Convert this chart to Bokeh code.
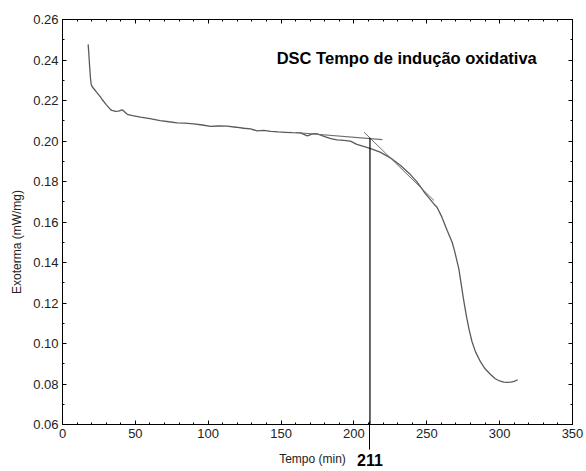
from bokeh.plotting import figure
from bokeh.models import (LinearAxis, SingleIntervalTicker, FixedTicker, Range1d,
                          NumeralTickFormatter, Label, CustomJSTickFormatter)
from bokeh.embed import file_html
from bokeh.resources import INLINE

# ---- data ----
tempo_min = [17.6, 18.0, 18.6, 19.2, 19.7, 20.4, 21.5, 23.5, 26.0, 27.2, 30.0, 33.0, 34.0,
             36.4, 38.4, 41.0, 44.4, 48.0, 53.5, 60.0, 67.0, 73.0, 78.7, 84.0, 90.0, 96.0,
             101.6, 107.0, 113.0, 119.0, 124.4, 129.0, 133.6, 138.0, 143.0, 148.0, 153.0,
             158.0, 163.3, 168.0, 172.0, 174.8, 180.0, 184.0, 188.5, 193.0, 197.6, 202.0,
             206.0, 211.0, 218.0, 225.0, 232.0, 238.0, 243.4, 249.0, 255.0, 257.0, 260.4,
             264.0, 267.4, 269.0, 272.0, 273.8, 275.4, 277.2, 279.0, 281.0, 283.4, 286.8,
             290.0, 293.6, 297.0, 300.0, 302.8, 305.0, 307.5, 310.0, 312.4]
exoterma = [0.2477, 0.2440, 0.2370, 0.2310, 0.2280, 0.2268, 0.2258, 0.2240, 0.2218, 0.2205,
            0.2180, 0.2155, 0.2151, 0.2146, 0.2148, 0.2154, 0.2132, 0.2125, 0.2118, 0.2110,
            0.2101, 0.2095, 0.2090, 0.2088, 0.2085, 0.2079, 0.2072, 0.2074, 0.2073, 0.2068,
            0.2063, 0.2060, 0.2050, 0.2052, 0.2048, 0.2045, 0.2043, 0.2041, 0.2040, 0.2025,
            0.2036, 0.2035, 0.2022, 0.2012, 0.2006, 0.2003, 0.1999, 0.1983, 0.1975, 0.1964,
            0.1945, 0.1917, 0.1879, 0.1840, 0.1797, 0.1740, 0.1688, 0.1673, 0.1624, 0.1558,
            0.1500, 0.1459, 0.1369, 0.1285, 0.1210, 0.1135, 0.1070, 0.1010, 0.0960, 0.0910,
            0.0875, 0.0848, 0.0826, 0.0815, 0.0809, 0.0808, 0.0809, 0.0813, 0.0821]

baseline_x = [160.0, 219.5]
baseline_y = [0.2042, 0.2007]
onset_line_x = [207.0, 255.0]
onset_line_y = [0.2043, 0.1706]
onset_time = 211
onset_y = 0.2016

x_ticks_interval = 50
y_ticks_interval = 0.02
title_text = "DSC Tempo de indução oxidativa"
x_label = "Tempo (min)"
y_label = "Exoterma (mW/mg)"

FONT = "Liberation Sans"

p = figure(width=586, height=471, output_backend="svg", toolbar_location=None,
           x_range=Range1d(0, 350), y_range=Range1d(0.06, 0.26),
           x_axis_location=None, y_axis_location=None,
           min_border_left=62, min_border_right=14, min_border_top=19, min_border_bottom=47)
p.background_fill_color = "white"
p.border_fill_color = "white"
p.outline_line_color = "black"
p.outline_line_width = 1
p.xgrid.visible = False
p.ygrid.visible = False

blank = CustomJSTickFormatter(code="return ''")


def style_axis(ax, labels=True):
    ax.axis_line_color = "black"
    ax.major_tick_in = 4
    ax.major_tick_out = 0
    ax.minor_tick_in = 2
    ax.minor_tick_out = 0
    ax.major_tick_line_color = "black"
    ax.minor_tick_line_color = "black"
    ax.major_label_text_font = FONT
    ax.major_label_text_font_size = "13px"
    ax.major_label_text_color = "#222222"
    if not labels:
        ax.formatter = blank
        ax.major_label_standoff = 0


xt = SingleIntervalTicker(interval=x_ticks_interval, num_minor_ticks=5)
yt = SingleIntervalTicker(interval=y_ticks_interval, num_minor_ticks=2)

xaxis = LinearAxis(ticker=xt)
style_axis(xaxis)
xaxis.major_label_standoff = 4
p.add_layout(xaxis, "below")

# second bottom axis carrying the induction-time marker
tax = LinearAxis(ticker=FixedTicker(ticks=[onset_time], minor_ticks=[]))
tax.axis_line_color = None
tax.major_tick_in = 19
tax.major_tick_out = 9
tax.major_tick_line_color = "black"
tax.major_label_text_font = FONT
tax.major_label_text_font_size = "16px"
tax.major_label_text_font_style = "bold"
tax.major_label_text_color = "black"
tax.major_label_standoff = 4
# trailing no-break spaces move the centred label a little to the left
tax.axis_label = x_label + "\u00a0" * 3
tax.axis_label_text_font = FONT
tax.axis_label_text_font_size = "12px"
tax.axis_label_text_font_style = "normal"
tax.axis_label_text_color = "#222222"
tax.axis_label_standoff = -17
p.add_layout(tax, "below")

yaxis = LinearAxis(ticker=yt, formatter=NumeralTickFormatter(format="0.00"))
style_axis(yaxis)
yaxis.major_label_standoff = 4
# trailing no-break spaces move the centred label down, as in the reference
yaxis.axis_label = y_label + "\u00a0" * 12
yaxis.axis_label_text_font = FONT
yaxis.axis_label_text_font_size = "12px"
yaxis.axis_label_text_font_style = "normal"
yaxis.axis_label_text_color = "#222222"
yaxis.axis_label_standoff = 6
p.add_layout(yaxis, "left")

top = LinearAxis(ticker=SingleIntervalTicker(interval=x_ticks_interval, num_minor_ticks=5))
style_axis(top, labels=False)
p.add_layout(top, "above")
right = LinearAxis(ticker=SingleIntervalTicker(interval=y_ticks_interval, num_minor_ticks=2))
style_axis(right, labels=False)
p.add_layout(right, "right")

# curve
p.line(tempo_min, exoterma, line_color="#5a5a5a", line_width=1.3)
# tangents
p.line(baseline_x, baseline_y, line_color="#6e6e6e", line_width=1.2)
p.line(onset_line_x, onset_line_y, line_color="#6e6e6e", line_width=1.0)
# vertical marker
p.segment(x0=[onset_time], y0=[onset_y], x1=[onset_time], y1=[p.y_range.start],
          line_color="black", line_width=1.2)

p.add_layout(Label(x=147, y=0.241, text=title_text, text_font=FONT,
                   text_font_size="16.5px", text_font_style="bold",
                   text_baseline="middle", text_color="black"))

open("out.html", "w").write(file_html(p, INLINE))
